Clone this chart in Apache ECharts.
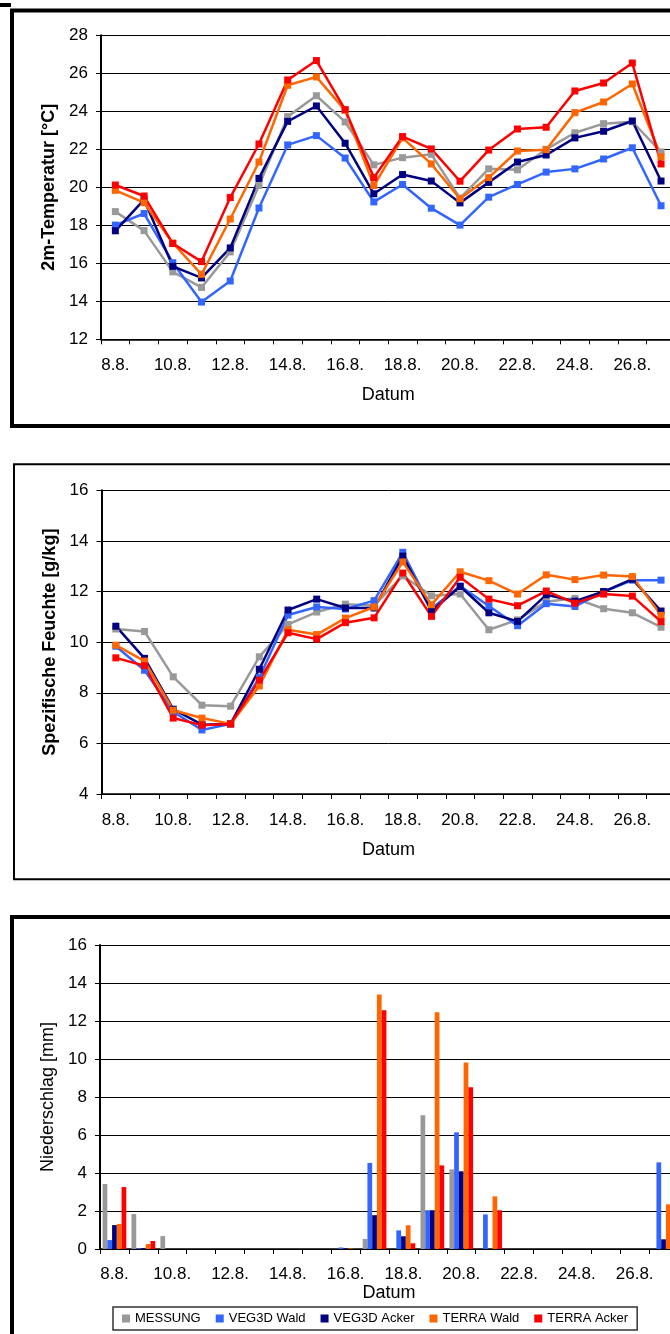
<!DOCTYPE html>
<html>
<head>
<meta charset="utf-8">
<script src="https://cdn.jsdelivr.net/npm/echarts@6/dist/echarts.min.js"></script>
<style>
html,body{margin:0;padding:0;background:#fff;overflow:hidden;width:670px;height:1334px;}
#c{width:700px;height:1334px;}
</style>
</head>
<body>
<div id="c"></div>
<script>
// ---- data ----
var dates = ['8.8.','9.8.','10.8.','11.8.','12.8.','13.8.','14.8.','15.8.','16.8.','17.8.',
             '18.8.','19.8.','20.8.','21.8.','22.8.','23.8.','24.8.','25.8.','26.8.','27.8.'];
var seriesNames = ['MESSUNG','VEG3D Wald','VEG3D Acker','TERRA Wald','TERRA Acker'];

// 2m-Temperatur [°C]
var tempMessung    = [18.72,17.72,15.55,14.73,16.6,20.1,23.72,24.82,23.44,21.18,21.56,21.74,19.43,20.97,20.92,22.0,22.87,23.35,23.45,21.86];
var tempVegWald    = [18.01,18.62,16.03,13.96,15.07,18.91,22.23,22.72,21.54,19.23,20.15,18.9,18.01,19.48,20.15,20.8,20.97,21.49,22.08,19.03];
var tempVegAcker   = [17.71,19.35,15.84,15.23,16.81,20.47,23.47,24.28,22.32,19.66,20.67,20.33,19.18,20.26,21.33,21.7,22.6,22.95,23.49,20.33];
var tempTerraWald  = [19.84,19.19,17.07,15.42,18.33,21.33,25.37,25.81,24.05,20.09,22.6,21.23,19.4,20.51,21.91,21.98,23.93,24.49,25.44,21.61];
var tempTerraAcker = [20.12,19.54,17.04,16.09,19.46,22.28,25.65,26.67,24.09,20.51,22.67,22.02,20.32,21.96,23.07,23.16,25.07,25.49,26.54,21.23];

// Spezifische Feuchte [g/kg]
var humMessung    = [10.52,10.42,8.63,7.51,7.47,9.42,10.7,11.19,11.5,11.45,12.62,11.83,11.9,10.49,10.88,11.6,11.73,11.32,11.16,10.59];
var humVegWald    = [9.84,8.89,7.25,6.53,6.77,8.6,11.07,11.39,11.31,11.64,13.55,11.33,12.22,11.43,10.65,11.52,11.41,11.99,12.45,12.45];
var humVegAcker   = [10.63,9.36,7.35,6.74,6.77,8.93,11.27,11.7,11.35,11.35,13.4,11.23,12.2,11.16,10.82,11.87,11.62,12.0,12.49,11.23];
var humTerraWald  = [9.88,9.25,7.31,7.0,6.77,8.27,10.49,10.3,10.95,11.39,13.17,11.48,12.78,12.43,11.9,12.66,12.47,12.65,12.59,11.06];
var humTerraAcker = [9.38,9.07,7.0,6.72,6.77,8.5,10.37,10.12,10.77,10.96,12.73,11.02,12.56,11.7,11.44,12.02,11.54,11.9,11.82,10.81];

// Niederschlag [mm]
var precMessung    = [3.42,1.84,0.68,0,0,0,0,0,0,0.53,0,7.04,4.19,0,0,0,0,0,0,0];
var precVegWald    = [0.47,0.04,0,0,0,0,0,0,0.08,4.53,0.98,2.04,6.14,1.82,0,0,0,0,0,4.56];
var precVegAcker   = [1.26,0.04,0,0,0,0,0,0,0.03,1.78,0.67,2.04,4.09,0,0,0,0,0,0,0.51];
var precTerraWald  = [1.32,0.26,0,0,0,0,0,0,0.03,13.4,1.25,12.46,9.82,2.77,0,0,0,0,0,2.35];
var precTerraAcker = [3.26,0.42,0,0,0,0,0,0,0,12.56,0.3,4.4,8.51,2.04,0,0,0,0,0,2.0];

var yTitles = ['2m-Temperatur [°C]','Spezifische Feuchte [g/kg]','Niederschlag [mm]'];
var xTitle = 'Datum';

// ---- styling ----
var colors = ['#999999','#3366FF','#000080','#FF6600','#FF0000'];
var FONT = '"Liberation Sans", Arial, sans-serif';

var chart = echarts.init(document.getElementById('c'), null, {renderer:'canvas'});

var grids = [
  {left:101, top:35.3, right:24.6, height:304},
  {left:101.5, top:490.3, right:24.6, height:303.7},
  {left:100, top:945, right:22, height:304}
];

function xAxisCfg(idx, labelMargin, nameGap){
  return {
    type:'category', gridIndex:idx, data:dates, boundaryGap:true,
    axisLine:{show:true, lineStyle:{color:'#000', width:1.5}},
    axisTick:{show:true, interval:0, length:5, lineStyle:{color:'#000', width:1}},
    axisLabel:{interval:1, fontSize:17, color:'#000', margin:labelMargin, fontFamily:FONT},
    name:xTitle, nameLocation:'middle', nameGap:nameGap,
    nameTextStyle:{fontSize:18, color:'#000', fontFamily:FONT},
    splitLine:{show:false}
  };
}
function yAxisCfg(idx, min, max, title, bold){
  return {
    type:'value', gridIndex:idx, min:min, max:max, interval:2,
    axisLine:{show:true, lineStyle:{color:'#000', width:2}},
    axisTick:{show:true, length:5, lineStyle:{color:'#000', width:1}},
    axisLabel:{fontSize:17, color:'#000', margin:13, fontFamily:FONT},
    splitLine:{show:true, lineStyle:{color:'#000', width:1}},
    name:title, nameLocation:'middle', nameGap:42,
    nameTextStyle:{fontSize:18, color:'#000', fontWeight: bold ? 'bold' : 'normal', fontFamily:FONT}
  };
}

function lineSeries(name, data, idx, color){
  return {
    type:'line', name:name, data:data, xAxisIndex:idx, yAxisIndex:idx,
    symbol:'rect', symbolSize:7, showSymbol:true,
    lineStyle:{color:color, width:2.5},
    itemStyle:{color:color},
    animation:false
  };
}
function barSeries(name, data, color){
  return {
    type:'bar', name:name, data:data, xAxisIndex:2, yAxisIndex:2,
    barGap:'0%', barCategoryGap:'18%',
    itemStyle:{color:color},
    animation:false
  };
}

var tempSets = [tempMessung, tempVegWald, tempVegAcker, tempTerraWald, tempTerraAcker];
var humSets  = [humMessung, humVegWald, humVegAcker, humTerraWald, humTerraAcker];
var precSets = [precMessung, precVegWald, precVegAcker, precTerraWald, precTerraAcker];

var series = [];
for (var i=0;i<5;i++) series.push(lineSeries(seriesNames[i], tempSets[i], 0, colors[i]));
for (var i=0;i<5;i++) series.push(lineSeries(seriesNames[i], humSets[i], 1, colors[i]));
for (var i=0;i<5;i++) series.push(barSeries(seriesNames[i], precSets[i], colors[i]));

var option = {
  animation:false,
  textStyle:{fontFamily:FONT},
  grid:grids,
  xAxis:[xAxisCfg(0,18,47), xAxisCfg(1,18,47), xAxisCfg(2,16.5,35)],
  yAxis:[yAxisCfg(0,12,28,yTitles[0],true), yAxisCfg(1,4,16,yTitles[1],true), yAxisCfg(2,0,16,yTitles[2],false)],
  legend:{
    data:seriesNames, left:113, top:1307, orient:'horizontal',
    padding:[5,9], itemGap:15, itemWidth:8, itemHeight:8, icon:'rect',
    selectedMode:false,
    borderColor:'#333', borderWidth:1.5,
    textStyle:{fontSize:13, color:'#000', fontFamily:FONT}
  },
  graphic:[
    {type:'rect', shape:{x:0, y:3, width:11, height:4}, style:{fill:'#000'}, silent:true},
    {type:'rect', shape:{x:12, y:10.5, width:700, height:415.5}, style:{fill:null, stroke:'#000', lineWidth:4}, silent:true},
    {type:'rect', shape:{x:14, y:464.3, width:700, height:415}, style:{fill:null, stroke:'#000', lineWidth:2}, silent:true},
    {type:'rect', shape:{x:12, y:917, width:700, height:500}, style:{fill:null, stroke:'#000', lineWidth:4}, silent:true}
  ],
  series:series
};
chart.setOption(option);
</script>
</body>
</html>
